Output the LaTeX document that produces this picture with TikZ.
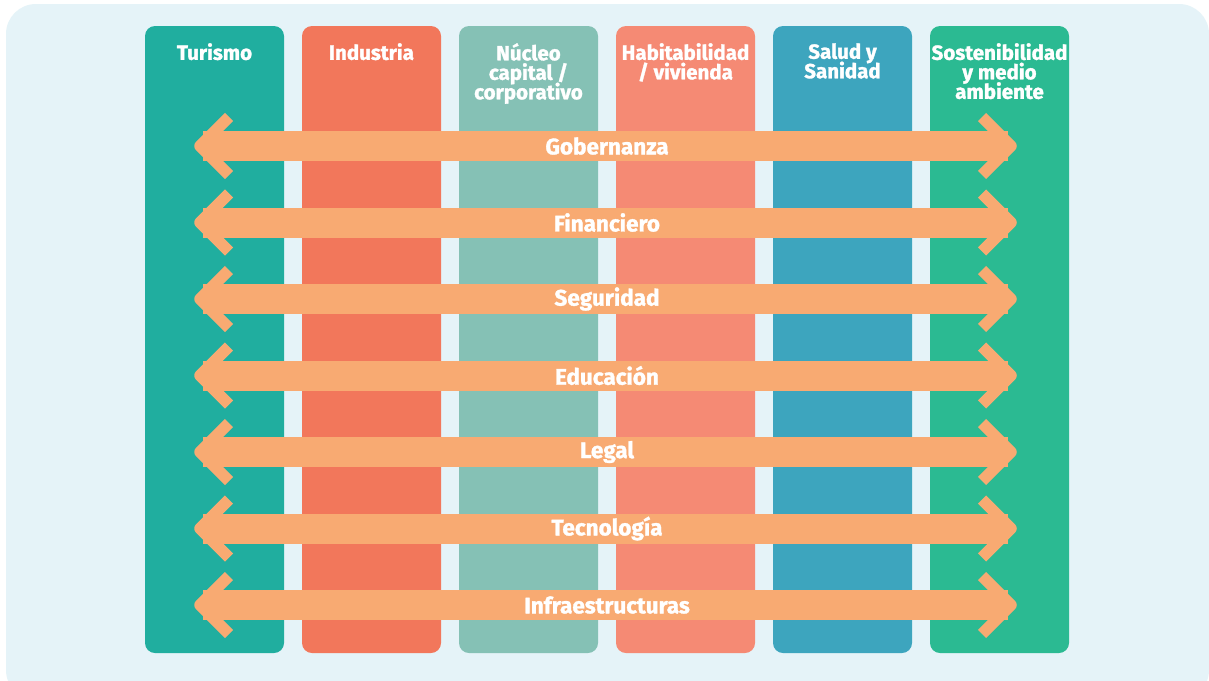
\documentclass[tikz,border=0pt]{standalone}
\usepackage{fontspec}
\setmainfont{Fira Sans}[BoldFeatures={FakeBold=1.4}]
\definecolor{bgc}{HTML}{E5F3F8}
\definecolor{cTur}{HTML}{20AE9F}
\definecolor{cInd}{HTML}{F2775B}
\definecolor{cNuc}{HTML}{85C1B5}
\definecolor{cHab}{HTML}{F58A74}
\definecolor{cSal}{HTML}{3DA5BE}
\definecolor{cSos}{HTML}{2BBA92}
\definecolor{carr}{HTML}{F8AA72}
\newcommand\myheadfont{\fontsize{20.5}{19.5}\selectfont\bfseries\lineskiplimit=-20pt\relax}
\tikzset{
  col/.style={fill=#1, draw=none, rounded corners=10pt},
  head/.style={font=\myheadfont, text=white, align=center, anchor=north, inner sep=0pt},
  band/.style={fill=carr, draw=none},
  chev/.style={draw=carr, line width=11.5pt, line join=round},
  lab/.style={font=\fontsize{22.5}{19}\selectfont\bfseries, text=white, inner sep=0pt}
}
\begin{document}
\begin{tikzpicture}[x=1pt,y=-1pt]
\useasboundingbox (0,0) rectangle (1209,680);
\fill[white] (0,0) rectangle (1209,680);
\fill[bgc, rounded corners=30pt] (6,4) rectangle (1209,700);
% columns
\foreach \x/\c/\n in {145/cTur/tur,302/cInd/ind,459/cNuc/nuc,616/cHab/hab,773/cSal/sal,930/cSos/sos}{
  \path[col=\c] (\x,26) rectangle ++(139,627) coordinate (\n);
}
\node[head] (htur) at (214.5,43) {Turismo};
\node[head] (hind) at (371.5,43) {Industria};
\node[head] (hnuc) at (528.5,43) {Núcleo\\capital /\\corporativo};
\node[head] (hhab) at (685.5,43) {Habitabilidad\\/ vivienda};
\node[head] (hsal) at (842.5,43) {Salud y\\Sanidad};
\node[head] (hsos) at (999.5,43) {Sostenibilidad\\y medio\\ambiente};
% arrows
\foreach \y/\t/\n in {146/Gobernanza/a1,222.5/Financiero/a2,299/Seguridad/a3,375.5/Educación/a4,452/Legal/a5,528.5/Tecnología/a6,605/Infraestructuras/a7}{
  \fill[band] (203,\y-15) rectangle (1008,\y+15);
  \draw[chev] (229,\y-29) -- (200,\y) -- (229,\y+29);
  \draw[chev] (982,\y-29) -- (1011,\y) -- (982,\y+29);
  \node[lab] (\n) at (607,\y) {\t};
}
\end{tikzpicture}
\end{document}
